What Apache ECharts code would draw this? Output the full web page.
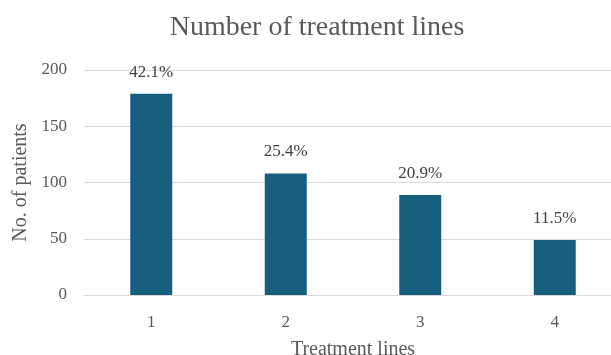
<!DOCTYPE html>
<html>
<head>
<meta charset="utf-8">
<script src="https://cdn.jsdelivr.net/npm/echarts@6/dist/echarts.min.js"></script>
<style>html,body{margin:0;padding:0;background:#fff}#c{width:611px;height:355px}</style>
</head>
<body>
<div id="c"></div>
<script>
const categories = ['1', '2', '3', '4'];
const patients = [179, 108, 89, 49];
const percentLabels = ['42.1%', '25.4%', '20.9%', '11.5%'];
const yTicks = [0, 50, 100, 150, 200];

const FONT = '"Liberation Serif", "DejaVu Serif", serif';
const chart = echarts.init(document.getElementById('c'), null, {renderer: 'canvas'});
chart.setOption({
  animation: false,
  backgroundColor: '#ffffff',
  title: {
    text: 'Number of treatment lines',
    left: 312, top: 9, textAlign: 'center',
    textStyle: {fontFamily: FONT, fontSize: 28, fontWeight: 'normal', color: '#595959'}
  },
  grid: {left: 84, right: -11, top: 70, bottom: 60, containLabel: false, outerBoundsMode: 'none'},
  xAxis: {
    type: 'category', data: categories,
    name: 'Treatment lines', nameLocation: 'middle', nameGap: 45,
    nameTextStyle: {fontFamily: FONT, fontSize: 20, color: '#595959'},
    axisLine: {show: true, lineStyle: {color: '#d9d9d9', width: 1}},
    axisTick: {show: false},
    axisLabel: {fontFamily: FONT, fontSize: 17, color: '#595959', margin: 19}
  },
  yAxis: {
    type: 'value', min: yTicks[0], max: yTicks[yTicks.length - 1], interval: 50,
    name: 'No. of patients', nameLocation: 'middle', nameGap: 53, nameRotate: 90,
    nameTextStyle: {fontFamily: FONT, fontSize: 20, color: '#595959'},
    axisLine: {show: false}, axisTick: {show: false},
    axisLabel: {fontFamily: FONT, fontSize: 17, color: '#595959', margin: 17},
    splitLine: {lineStyle: {color: '#d9d9d9', width: 1}}
  },
  series: [{
    type: 'bar', data: patients, barWidth: 42,
    itemStyle: {color: '#175E7F'},
    label: {
      show: true, position: 'top', distance: 13,
      fontFamily: FONT, fontSize: 17, color: '#404040',
      formatter: p => percentLabels[p.dataIndex]
    }
  }]
});
</script>
</body>
</html>
